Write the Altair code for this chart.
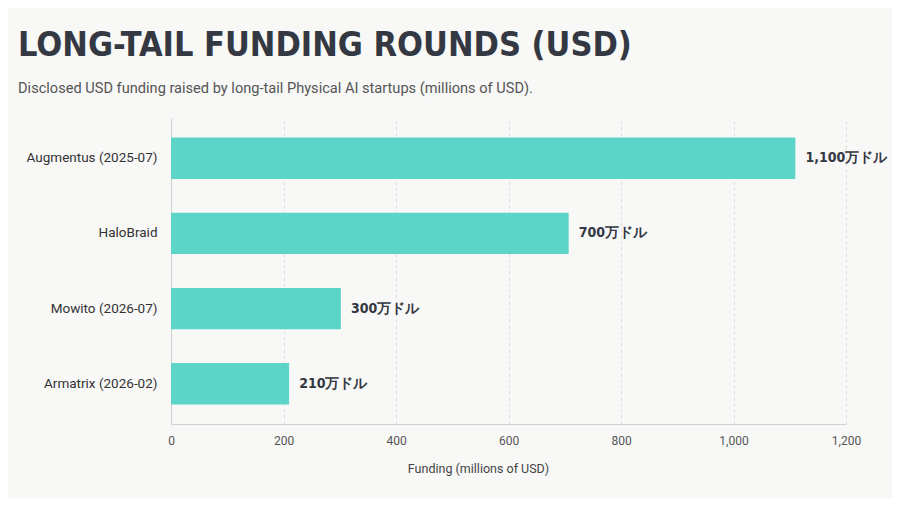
import altair as alt
import pandas as pd

companies = ["Augmentus (2025-07)", "HaloBraid", "Mowito (2026-07)", "Armatrix (2026-02)"]
funding = [1110, 707, 302, 210]
value_labels = ["1,100万ドル", "700万ドル", "300万ドル", "210万ドル"]
x_ticks = [0, 200, 400, 600, 800, 1000, 1200]

df = pd.DataFrame({"company": companies, "funding": funding, "label": value_labels})

BG = "#f8f8f7"
BAR = "#5dd4c8"
COND = "DejaVu Sans Condensed"
REG = "Roboto"

base = alt.Chart(df)

bars = base.mark_bar(color=BAR).encode(
    x=alt.X("funding:Q",
            scale=alt.Scale(domain=[0, 1200], nice=False),
            axis=alt.Axis(values=x_ticks, format=",.0f", title="Funding (millions of USD)",
                          grid=True, gridDash=[3, 3], gridColor="#dedede",
                          domainColor="#d0d0d0", ticks=False, labelFlush=False,
                          labelFont=REG, labelFontSize=12, labelColor="#555",
                          labelPadding=11, titleFont=REG, titleFontSize=12.5,
                          titleFontWeight="normal", titleColor="#444", titlePadding=16,
                          titleX=307)),
    y=alt.Y("company:N", sort=companies,
            scale=alt.Scale(paddingInner=0.45, paddingOuter=0.26),
            axis=alt.Axis(title=None, ticks=False, domainColor="#d0d0d0",
                          labelFont=REG, labelFontSize=13.5, labelColor="#333",
                          labelPadding=14)),
)

labels = base.mark_text(align="left", baseline="middle", dx=10,
                        font=COND, fontSize=14, fontWeight="bold", color="#333842").encode(
    x="funding:Q",
    y=alt.Y("company:N", sort=companies),
    text="label:N",
)

chart = (bars + labels).properties(
    width=675,
    height=306,
    background=BG,
    padding={"left": 163, "top": 110, "right": 46, "bottom": 74},
    autosize=alt.AutoSizeParams(type="none"),
    title=alt.TitleParams(
        text="LONG-TAIL FUNDING ROUNDS (USD)",
        subtitle="Disclosed USD funding raised by long-tail Physical AI startups (millions of USD).",
        anchor="start", frame="group", dx=-153, offset=22,
        font=COND, fontSize=34, fontWeight="bold", color="#333842",
        subtitleFont=REG, subtitleFontSize=14.6, subtitleColor="#555",
        subtitlePadding=18,
    ),
).configure_view(stroke=None)

chart.save("out.html", embed_options={"renderer": "svg", "actions": False})
